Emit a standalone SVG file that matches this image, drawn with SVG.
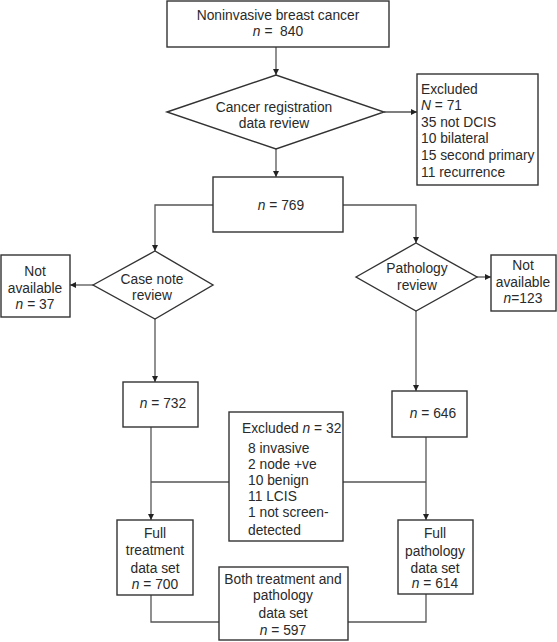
<svg xmlns="http://www.w3.org/2000/svg" width="557" height="642" viewBox="0 0 557 642">
<defs>
<style>
.b{fill:#fff;stroke:#333;stroke-width:1.4}
.c{fill:none;stroke:#555;stroke-width:1.3}
text{font-family:"Liberation Sans",Arial,sans-serif;font-size:13.8px;fill:#2a2a2a}
.m{text-anchor:middle}
</style>
<marker id="ah" viewBox="0 0 10 10" refX="10" refY="5" markerWidth="6" markerHeight="6" markerUnits="userSpaceOnUse" orient="auto">
<path d="M0,0 L10,5 L0,10 z" fill="#222"/>
</marker>
</defs>
<rect width="557" height="642" fill="#fff"/>
<g id="connectors">
<line class="c" x1="276" y1="47" x2="276" y2="75" marker-end="url(#ah)"/>
<line class="c" x1="384" y1="112" x2="417" y2="112" marker-end="url(#ah)"/>
<line class="c" x1="276" y1="149" x2="276" y2="177" marker-end="url(#ah)"/>
<polyline class="c" points="213,205 155,205 155,251" marker-end="url(#ah)"/>
<polyline class="c" points="343,205 416,205 416,243" marker-end="url(#ah)"/>
<line class="c" x1="93" y1="285" x2="70" y2="285" marker-end="url(#ah)"/>
<line class="c" x1="155" y1="319" x2="155" y2="382" marker-end="url(#ah)"/>
<line class="c" x1="477" y1="277" x2="491" y2="277" marker-end="url(#ah)"/>
<line class="c" x1="416" y1="311" x2="416" y2="391" marker-end="url(#ah)"/>
<line class="c" x1="151" y1="427" x2="151" y2="520" marker-end="url(#ah)"/>
<line class="c" x1="426" y1="437" x2="426" y2="520" marker-end="url(#ah)"/>
<line class="c" x1="151" y1="482" x2="229" y2="482"/>
<line class="c" x1="343" y1="482" x2="426" y2="482"/>
<polyline class="c" points="151,595 151,622 219,622"/>
<polyline class="c" points="348,622 426,622 426,594"/>
</g>
<g id="start">
<rect class="b" x="167" y="1" width="222" height="46"/>
<text class="m" x="278" y="20">Noninvasive breast cancer</text>
<text class="m" x="278" y="36"><tspan font-style="italic">n</tspan> =&#160; 840</text>
</g>
<g id="registration">
<polygon class="b" points="167,112 276,75 384,112 276,149"/>
<text class="m" x="274" y="112">Cancer registration</text>
<text class="m" x="274" y="128">data review</text>
</g>
<g id="excluded71">
<rect class="b" x="417" y="74" width="121" height="111"/>
<text x="421" y="94">Excluded</text>
<text x="421" y="110"><tspan font-style="italic">N</tspan> = 71</text>
<text x="421" y="127">35 not DCIS</text>
<text x="421" y="143">10 bilateral</text>
<text x="421" y="160">15 second primary</text>
<text x="421" y="177">11 recurrence</text>
</g>
<g id="n769">
<rect class="b" x="213" y="177" width="130" height="55"/>
<text class="m" x="281" y="210"><tspan font-style="italic">n</tspan> = 769</text>
</g>
<g id="casenote">
<polygon class="b" points="93,285 155,251 213,285 155,319"/>
<text class="m" x="152" y="284">Case note</text>
<text class="m" x="152" y="300">review</text>
</g>
<g id="notavail37">
<rect class="b" x="1" y="255" width="69" height="62"/>
<text class="m" x="35" y="276">Not</text>
<text class="m" x="35" y="293">available</text>
<text class="m" x="35" y="309"><tspan font-style="italic">n</tspan> = 37</text>
</g>
<g id="pathology">
<polygon class="b" points="356,277 416,243 477,277 416,311"/>
<text class="m" x="417" y="273">Pathology</text>
<text class="m" x="417" y="290">review</text>
</g>
<g id="notavail123">
<rect class="b" x="491" y="255" width="65" height="56"/>
<text class="m" x="523" y="270">Not</text>
<text class="m" x="523" y="287">available</text>
<text class="m" x="523" y="303"><tspan font-style="italic">n</tspan>=123</text>
</g>
<g id="n732">
<rect class="b" x="123" y="382" width="75" height="45"/>
<text class="m" x="163" y="408"><tspan font-style="italic">n</tspan> = 732</text>
</g>
<g id="n646">
<rect class="b" x="392" y="391" width="75" height="46"/>
<text class="m" x="433" y="418"><tspan font-style="italic">n</tspan> = 646</text>
</g>
<g id="excluded32">
<rect class="b" x="229" y="412" width="114" height="129"/>
<text x="242" y="433">Excluded <tspan font-style="italic">n</tspan> = 32</text>
<text x="248" y="453">8 invasive</text>
<text x="248" y="469">2 node +ve</text>
<text x="248" y="485">10 benign</text>
<text x="248" y="501">11 LCIS</text>
<text x="248" y="517">1 not screen-</text>
<text x="248" y="535">detected</text>
</g>
<g id="fulltreatment">
<rect class="b" x="117" y="520" width="76" height="75"/>
<text class="m" x="155" y="538">Full</text>
<text class="m" x="155" y="555">treatment</text>
<text class="m" x="155" y="573">data set</text>
<text class="m" x="155" y="589"><tspan font-style="italic">n</tspan> = 700</text>
</g>
<g id="fullpathology">
<rect class="b" x="398" y="520" width="75" height="74"/>
<text class="m" x="435" y="538">Full</text>
<text class="m" x="435" y="556">pathology</text>
<text class="m" x="435" y="573">data set</text>
<text class="m" x="435" y="588"><tspan font-style="italic">n</tspan> = 614</text>
</g>
<g id="both">
<rect class="b" x="219" y="567" width="129" height="73"/>
<text class="m" x="283" y="584">Both treatment and</text>
<text class="m" x="283" y="600">pathology</text>
<text class="m" x="283" y="618">data set</text>
<text class="m" x="283" y="635"><tspan font-style="italic">n</tspan> = 597</text>
</g>
</svg>
